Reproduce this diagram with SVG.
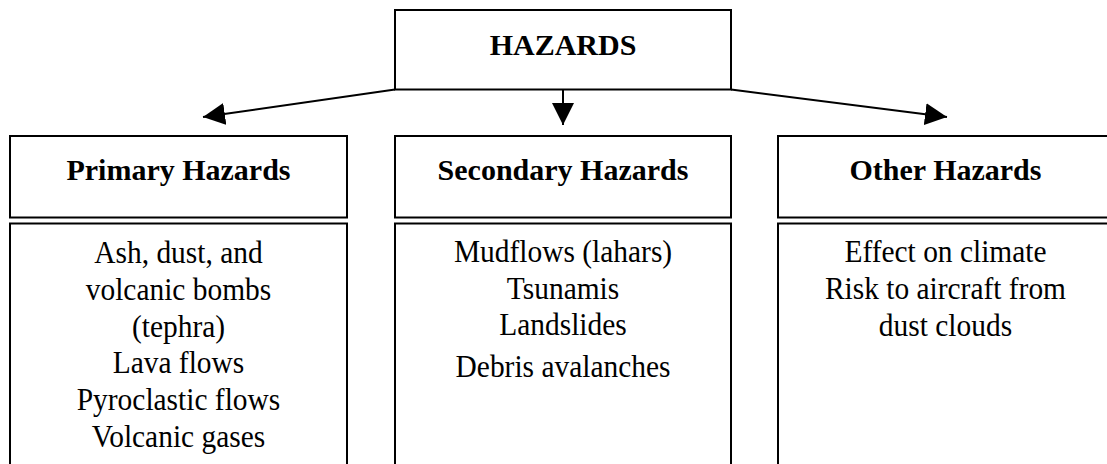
<svg xmlns="http://www.w3.org/2000/svg" width="1107" height="464" viewBox="0 0 1107 464">
<style>
.box{fill:#fff;stroke:#000;stroke-width:2}
.hd{font-family:"Liberation Serif","Times New Roman",serif;font-weight:bold;font-size:30px;text-anchor:middle;fill:#000}
.bd{font-family:"Liberation Serif","Times New Roman",serif;font-size:32px;text-anchor:middle;fill:#000}
.con{stroke:#000;stroke-width:2;fill:none;marker-end:url(#ah)}
</style>
<defs>
<marker id="ah" viewBox="0 0 10 10" refX="10" refY="5" markerUnits="userSpaceOnUse" markerWidth="22" markerHeight="22" orient="auto">
<path d="M0,0 L10,5 L0,10 z" fill="#000"/>
</marker>
</defs>
<rect width="1107" height="464" fill="#fff"/>
<g id="connectors">
<line class="con" x1="395" y1="89.5" x2="203" y2="117"/>
<line class="con" x1="563" y1="89.5" x2="563" y2="125"/>
<line class="con" x1="731" y1="89.5" x2="947" y2="117"/>
</g>
<g id="hazards">
<rect class="box" x="395" y="10" width="336" height="79.5"/>
<text class="hd" x="563" y="55">HAZARDS</text>
</g>
<g id="primary">
<rect class="box" x="10" y="136" width="337" height="81.5"/>
<text class="hd" x="178.5" y="180">Primary Hazards</text>
</g>
<g id="primary-list">
<rect class="box" x="10" y="223.5" width="337" height="260"/>
<g transform="scale(0.92,1)">
<text class="bd" x="194" y="263">Ash, dust, and</text>
<text class="bd" x="194" y="300">volcanic bombs</text>
<text class="bd" x="194" y="337">(tephra)</text>
<text class="bd" x="194" y="373">Lava flows</text>
<text class="bd" x="194" y="410">Pyroclastic flows</text>
<text class="bd" x="194" y="447">Volcanic gases</text>
</g>
</g>
<g id="secondary">
<rect class="box" x="395" y="136" width="336" height="81.5"/>
<text class="hd" x="563" y="180">Secondary Hazards</text>
</g>
<g id="secondary-list">
<rect class="box" x="395" y="223.5" width="336" height="260"/>
<g transform="scale(0.92,1)">
<text class="bd" x="612" y="262">Mudflows (lahars)</text>
<text class="bd" x="612" y="299">Tsunamis</text>
<text class="bd" x="612" y="335">Landslides</text>
<text class="bd" x="612" y="377">Debris avalanches</text>
</g>
</g>
<g id="other">
<rect class="box" x="778" y="136" width="337" height="81.5"/>
<text class="hd" x="945.5" y="180">Other Hazards</text>
</g>
<g id="other-list">
<rect class="box" x="778" y="223.5" width="337" height="260"/>
<g transform="scale(0.92,1)">
<text class="bd" x="1027.7" y="262">Effect on climate</text>
<text class="bd" x="1027.7" y="299">Risk to aircraft from</text>
<text class="bd" x="1027.7" y="336">dust clouds</text>
</g>
</g>
</svg>
